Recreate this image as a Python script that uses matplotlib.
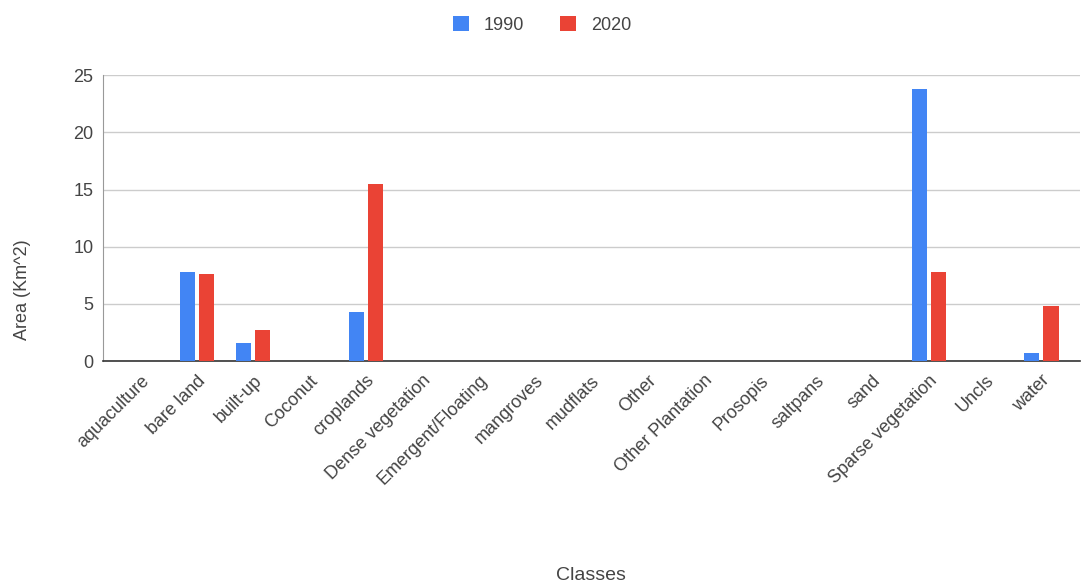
import matplotlib.pyplot as plt
import numpy as np

# Data
classes = [
    "aquaculture", "bare land", "built-up", "Coconut", "croplands",
    "Dense vegetation", "Emergent/Floating", "mangroves", "mudflats", "Other",
    "Other Plantation", "Prosopis", "saltpans", "sand", "Sparse vegetation",
    "Uncls", "water",
]
area_1990 = [0, 7.8, 1.6, 0, 4.3, 0, 0, 0, 0, 0, 0, 0, 0, 0, 23.8, 0, 0.7]
area_2020 = [0, 7.6, 2.7, 0, 15.5, 0, 0, 0, 0, 0, 0, 0, 0, 0, 7.8, 0, 4.8]
y_ticks = [0, 5, 10, 15, 20, 25]

BLUE = "#4285F4"
RED = "#EA4335"
TEXT = "#444444"

plt.rcParams["font.family"] = "Liberation Sans"

fig = plt.figure(figsize=(10.84, 5.88), dpi=100)
ax = fig.add_axes([0.095, 0.386, 0.901, 0.486])

x = np.arange(len(classes))
w = 0.27
ax.bar(x - 0.17, area_1990, width=w, color=BLUE, label="1990", zorder=3)
ax.bar(x + 0.17, area_2020, width=w, color=RED, label="2020", zorder=3)

ax.set_xlim(-0.667, 16.68)
ax.set_ylim(0, 25)
ax.set_yticks(y_ticks)
ax.yaxis.grid(True, color="#cccccc", linewidth=1, zorder=0)
ax.set_axisbelow(True)

for side in ["top", "right"]:
    ax.spines[side].set_visible(False)
ax.spines["bottom"].set_color("#333333")
ax.spines["bottom"].set_linewidth(1.2)
ax.spines["left"].set_color("#999999")

ax.set_xticks(x)
ax.set_xticklabels(classes, rotation=45, ha="right", rotation_mode="anchor",
                   fontsize=13, color=TEXT)
ax.tick_params(axis="x", length=0, pad=8)
ax.tick_params(axis="y", length=0, labelsize=13, labelcolor=TEXT, pad=7)

fig.text(0.021, 0.507, "Area (Km^2)", fontsize=13, color=TEXT, rotation=90,
         ha="center", va="center")
fig.text(0.545, 0.022, "Classes", fontsize=14, color=TEXT, ha="center", va="center")

fig.legend(loc="upper center", bbox_to_anchor=(0.5, 1.0), ncol=2, frameon=False,
           fontsize=13, handlelength=0.9, handleheight=0.9, columnspacing=2.0,
           labelcolor=TEXT)

fig.savefig("out.png", dpi=100)
